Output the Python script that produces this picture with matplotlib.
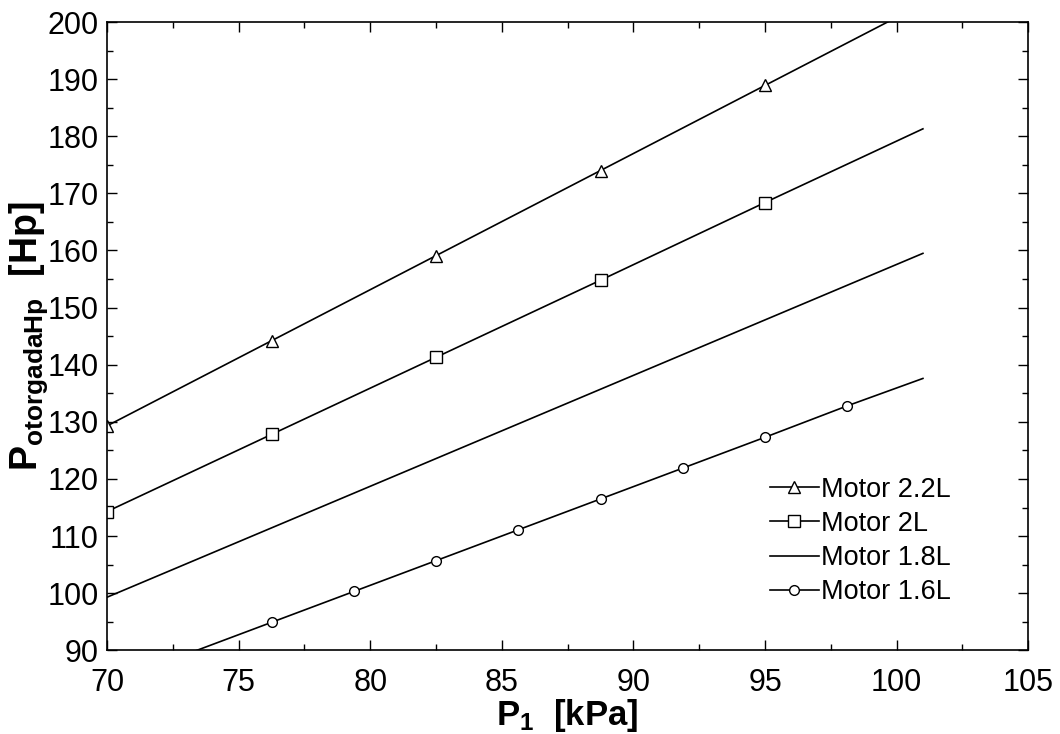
import numpy as np
import matplotlib
matplotlib.use('Agg')
import matplotlib.pyplot as plt
from matplotlib.ticker import MultipleLocator

plt.rcParams['font.family'] = ['Liberation Sans', 'DejaVu Sans']
plt.rcParams['mathtext.fontset'] = 'custom'
plt.rcParams['mathtext.rm'] = 'Liberation Sans'
plt.rcParams['mathtext.bf'] = 'Liberation Sans:bold'

# Motor 2.2L (triangles)
x_22 = [70.0, 76.25, 82.5, 88.75, 95.0, 101.0]
y_22 = [129.3, 144.2, 159.1, 174.0, 188.9, 203.2]
# Motor 2L (squares)
x_20 = [70.0, 76.25, 82.5, 88.75, 95.0, 101.0]
y_20 = [114.3, 127.8, 141.3, 154.8, 168.4, 181.3]
# Motor 1.8L (plain line)
x_18 = [70.0, 101.0]
y_18 = [99.3, 159.5]
# Motor 1.6L (circles)
x_16 = [70.0, 73.125, 76.25, 79.375, 82.5, 85.625, 88.75, 91.875, 95.0, 98.125, 101.0]
y_16 = [84.0, 89.5, 94.9, 100.3, 105.7, 111.1, 116.5, 121.9, 127.3, 132.8, 137.6]

fig = plt.figure(figsize=(10.6, 7.34), dpi=100)
ax = fig.add_axes([0.101, 0.114, 0.869, 0.856])

ax.plot(x_22, y_22, color='black', lw=1.2, marker='^', markevery=[0, 1, 2, 3, 4],
        ms=9, mfc='white', mec='black', mew=1.0, label='Motor 2.2L')
ax.plot(x_20, y_20, color='black', lw=1.2, marker='s', markevery=[0, 1, 2, 3, 4],
        ms=9, mfc='white', mec='black', mew=1.0, label='Motor 2L')
ax.plot(x_18, y_18, color='black', lw=1.2, label='Motor 1.8L')
ax.plot(x_16, y_16, color='black', lw=1.2, marker='o', markevery=list(range(2, 10)),
        ms=7, mfc='white', mec='black', mew=1.0, label='Motor 1.6L')

ax.set_xlim(70, 105)
ax.set_ylim(90, 200)
ax.xaxis.set_major_locator(MultipleLocator(5))
ax.xaxis.set_minor_locator(MultipleLocator(2.5))
ax.yaxis.set_major_locator(MultipleLocator(10))
ax.yaxis.set_minor_locator(MultipleLocator(5))
ax.tick_params(which='both', direction='in', top=True, right=True, labelsize=22)
ax.tick_params(which='major', length=7, width=1)
ax.tick_params(which='minor', length=4, width=1)
ax.tick_params(axis='x', which='major', pad=13)
ax.tick_params(axis='y', which='major', pad=6)
for s in ax.spines.values():
    s.set_linewidth(1.2)

ax.set_xlabel(r'$\mathbf{P_1}$  [kPa]', fontsize=25, fontweight='bold', labelpad=-1)
ax.set_ylabel(r'$\mathbf{P_{otorgadaHp}}$  [Hp]', fontsize=27, fontweight='bold', labelpad=-2)

ax.legend(loc='lower right', bbox_to_anchor=(0.943, 0.033), frameon=False, fontsize=19.5,
          handlelength=1.8, handletextpad=0.1, labelspacing=0.3)

fig.savefig('out.png', dpi=100)
